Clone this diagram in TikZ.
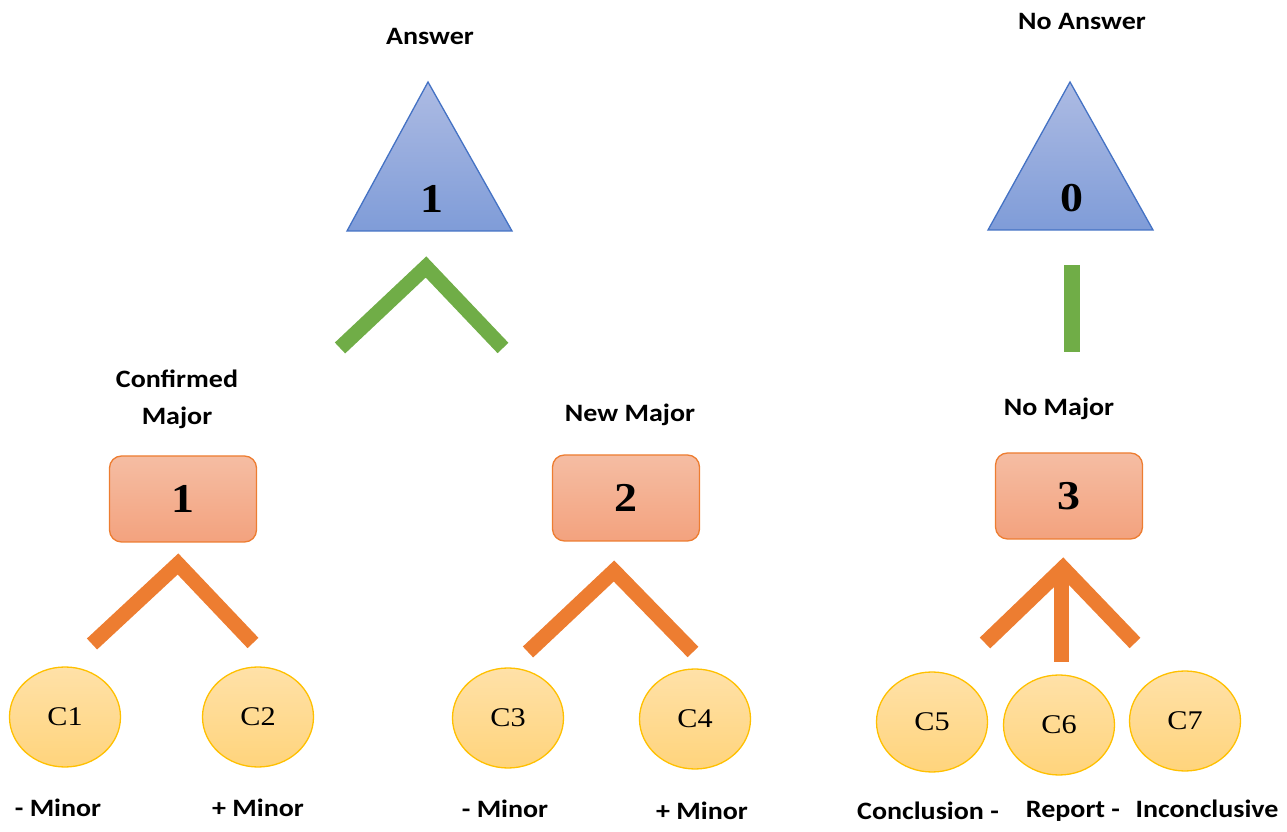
\documentclass[tikz,border=0pt]{standalone}
\usepackage{fontspec}
\setmainfont{Liberation Serif}[FakeStretch=1.12]
\setsansfont{Carlito}[FakeStretch=1.12]
\usetikzlibrary{shapes.geometric}
\usepackage{xcolor}

\definecolor{triedge}{HTML}{4472C4}
\definecolor{tritop}{HTML}{ADBBE3}
\definecolor{tribot}{HTML}{7F9CD8}
\definecolor{boxedge}{HTML}{ED7D31}
\definecolor{boxtop}{HTML}{F5BDA3}
\definecolor{boxbot}{HTML}{F3A27E}
\definecolor{ovaledge}{HTML}{FFC000}
\definecolor{ovaltop}{HTML}{FFE1A8}
\definecolor{ovalbot}{HTML}{FFD47C}
\definecolor{linkorange}{HTML}{ED7D31}
\definecolor{linkgreen}{HTML}{70AD47}

\begin{document}
\begin{tikzpicture}[x=1pt,y=1pt,
	lbl/.style={font=\sffamily\bfseries\fontsize{25}{37}\selectfont, anchor=base, align=center, inner sep=0pt},
	score/.style={font=\rmfamily\bfseries\fontsize{41}{41}\selectfont, inner sep=0pt},
	tri/.style={draw=triedge, line width=1.3pt, top color=tritop, bottom color=tribot},
	major/.style={rectangle, draw=boxedge, line width=1.3pt, rounded corners=12pt, top color=boxtop, bottom color=boxbot, minimum width=147pt, minimum height=86pt, font=\rmfamily\bfseries\fontsize{41}{41}\selectfont},
	minor/.style={ellipse, draw=ovaledge, line width=1.3pt, top color=ovaltop, bottom color=ovalbot, minimum width=111pt, minimum height=100pt, inner sep=0pt, font=\rmfamily\fontsize{27}{27}\selectfont},
	link/.style={line width=15pt, line join=miter}]
	\useasboundingbox (0,0) rectangle (1287,832);

	% top level: answer / no answer
	\coordinate (tri1-top) at (428,750);
	\coordinate (tri1-l) at (347,601);
	\coordinate (tri1-r) at (512,601);
	\draw[tri] (tri1-l) -- (tri1-top) -- (tri1-r) -- cycle;
	\node[score, anchor=base] (ans) at (432,619) {1};
	\node[lbl] (ans-lbl) at (430,787) {Answer};

	\coordinate (tri0-top) at (1070,750);
	\coordinate (tri0-l) at (988,602);
	\coordinate (tri0-r) at (1153,602);
	\draw[tri] (tri0-l) -- (tri0-top) -- (tri0-r) -- cycle;
	\node[score, anchor=base] (noans) at (1072,620) {0};
	\node[lbl] (noans-lbl) at (1082,802) {No Answer};

	% green links
	\coordinate (g-l) at (340,484);
	\coordinate (g-top) at (426,565);
	\coordinate (g-r) at (503,484);
	\draw[link, linkgreen] (g-l) -- (g-top) -- (g-r);
	\coordinate (g-bar-top) at (1072,567);
	\coordinate (g-bar-bot) at (1072,480);
	\draw[line width=16pt, linkgreen] (g-bar-bot) -- (g-bar-top);

	% majors
	\node[major] (maj1) at (183,333) {1};
	\node[lbl] (maj1-lbl) at (177,407) {Confirmed\\Major};
	\node[major] (maj2) at (626,334) {2};
	\node[lbl] (maj2-lbl) at (630,410) {New Major};
	\node[major] (maj3) at (1069,336) {3};
	\node[lbl] (maj3-lbl) at (1059,416) {No Major};

	% orange links
	\coordinate (o1-l) at (92,188);
	\coordinate (o1-top) at (178,268);
	\coordinate (o1-r) at (253,189);
	\draw[link, linkorange] (o1-l) -- (o1-top) -- (o1-r);
	\coordinate (o2-l) at (528,180);
	\coordinate (o2-top) at (614,261);
	\coordinate (o2-r) at (693,180);
	\draw[link, linkorange] (o2-l) -- (o2-top) -- (o2-r);
	\coordinate (o3-l) at (985,189);
	\coordinate (o3-top) at (1063,264);
	\coordinate (o3-r) at (1135,189);
	\coordinate (o3-stem) at (1061,170);
	\draw[link, linkorange] (o3-l) -- (o3-top) -- (o3-r);
	\draw[line width=15pt, linkorange] (o3-stem) -- ++(0,92);

	% minors
	\node[minor] (c1) at (65,115) {C1};
	\node[minor] (c2) at (258,115) {C2};
	\node[minor] (c3) at (508,114) {C3};
	\node[minor] (c4) at (695,113) {C4};
	\node[minor] (c5) at (932,110) {C5};
	\node[minor] (c6) at (1059,107) {C6};
	\node[minor] (c7) at (1185,111) {C7};

	\node[lbl] (c1-lbl) at (58,15) {- Minor};
	\node[lbl] (c2-lbl) at (258,15) {+ Minor};
	\node[lbl] (c3-lbl) at (505,14) {- Minor};
	\node[lbl] (c4-lbl) at (702,12) {+ Minor};
	\node[lbl] (c5-lbl) at (928,12) {Conclusion -};
	\node[lbl] (c6-lbl) at (1073,14) {Report -};
	\node[lbl] (c7-lbl) at (1207,14) {Inconclusive};
\end{tikzpicture}
\end{document}
